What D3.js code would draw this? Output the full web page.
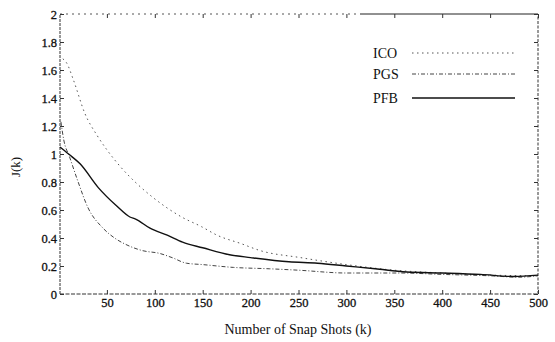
<!DOCTYPE html>
<html lang="en">
<head>
<meta charset="UTF-8">
<title>J(k)</title>
<script src="https://cdn.jsdelivr.net/npm/d3@7/dist/d3.min.js"></script>
<style>
  body { margin: 0; background: #fff; }
  text { font-family: "Liberation Serif", "DejaVu Serif", serif; fill: #111; }
</style>
</head>
<body>
<svg width="555" height="342"></svg>
<script>
// data
var icoK = [4, 8, 15, 27, 40, 50, 64, 81, 98, 128, 149, 165, 190, 210, 252, 300, 350, 400, 450, 500];
var icoJ = [1.68, 1.65, 1.53, 1.29, 1.13, 1.03, 0.91, 0.79, 0.69, 0.55, 0.48, 0.42, 0.36, 0.31, 0.26, 0.21, 0.17, 0.15, 0.135, 0.13];

var pgsK = [2, 5, 11, 20, 30, 46, 58, 71, 87, 105, 118, 133, 150, 182, 220, 250, 300, 356, 400, 450, 480, 500];
var pgsJ = [1.23, 1.1, 0.98, 0.8, 0.62, 0.47, 0.40, 0.35, 0.31, 0.29, 0.26, 0.22, 0.21, 0.19, 0.18, 0.17, 0.15, 0.15, 0.14, 0.13, 0.12, 0.13];

var pfbK = [1, 10, 22, 41, 60, 74, 80, 95, 113, 129, 150, 178, 200, 240, 270, 300, 330, 363, 400, 440, 475, 500];
var pfbJ = [1.05, 1.0, 0.93, 0.76, 0.63, 0.55, 0.535, 0.47, 0.42, 0.37, 0.33, 0.28, 0.26, 0.23, 0.22, 0.20, 0.18, 0.157, 0.15, 0.14, 0.125, 0.135];

var xTicks = [50, 100, 150, 200, 250, 300, 350, 400, 450, 500];
var yTicks = [0, 0.2, 0.4, 0.6, 0.8, 1, 1.2, 1.4, 1.6, 1.8, 2];

var svg = d3.select('svg');

var x = d3.scaleLinear().domain([0, 500]).range([59, 538]);
var y = d3.scaleLinear().domain([0, 2]).range([294, 14]);

// frame (scanned look: dotted)
var g = svg.append('g');
g.append('line').attr('x1', 60).attr('x2', 538).attr('y1', y(0)).attr('y2', y(0))
  .attr('stroke', '#333').attr('stroke-dasharray', '4,1.5');
g.append('line').attr('x1', 60).attr('x2', 60).attr('y1', y(0)).attr('y2', y(2))
  .attr('stroke', '#333').attr('stroke-dasharray', '3,1');
g.append('line').attr('x1', 60).attr('x2', 360).attr('y1', y(2)).attr('y2', y(2))
  .attr('stroke', '#555').attr('stroke-dasharray', '2,4');
g.append('line').attr('x1', 360).attr('x2', 538).attr('y1', y(2)).attr('y2', y(2))
  .attr('stroke', '#222');
g.append('line').attr('x1', 538).attr('x2', 538).attr('y1', y(0)).attr('y2', y(2))
  .attr('stroke', '#333').attr('stroke-dasharray', '3,1.5');

// axes with inward ticks, mirrored
var axB = d3.axisBottom(x).tickValues(xTicks).tickSize(-4).tickPadding(4);
var axT = d3.axisTop(x).tickValues(xTicks).tickSize(-4).tickFormat('');
var axL = d3.axisLeft(y).tickValues(yTicks).tickSize(-4).tickPadding(3).tickFormat(d3.format('~g'));
var axR = d3.axisRight(y).tickValues(yTicks).tickSize(-4).tickFormat('');

function style(sel) {
  sel.select('.domain').remove();
  sel.selectAll('line').attr('stroke', '#333');
  sel.selectAll('text').attr('font-size', 12.5).attr('font-family', '"Liberation Serif", serif')
    .attr('fill', '#111').attr('stroke', '#111').attr('stroke-width', 0.3);
}
svg.append('g').attr('transform', 'translate(0,' + y(0) + ')').call(axB).call(style);
svg.append('g').attr('transform', 'translate(0,' + y(2) + ')').call(axT).call(style);
svg.append('g').attr('transform', 'translate(60,0)').call(axL).call(style);
svg.append('g').attr('transform', 'translate(538,0)').call(axR).call(style);

// curves
var line = d3.line().x(function(d) { return x(d[0]); }).y(function(d) { return y(d[1]); })
  .curve(d3.curveMonotoneX);

var series = [
  { name: 'ICO', k: icoK, j: icoJ, stroke: '#555', width: 1, dash: '1.5,3.5' },
  { name: 'PGS', k: pgsK, j: pgsJ, stroke: '#444', width: 1, dash: '4,2,1,2' },
  { name: 'PFB', k: pfbK, j: pfbJ, stroke: '#111', width: 1.4, dash: null }
];

series.forEach(function(s) {
  var pts = d3.zip(s.k, s.j);
  svg.append('path').datum(pts).attr('d', line)
    .attr('fill', 'none').attr('stroke', s.stroke)
    .attr('stroke-width', s.width)
    .attr('stroke-dasharray', s.dash);
});

// legend
var leg = svg.append('g');
series.forEach(function(s, i) {
  var ly = [53, 74, 98][i];
  leg.append('text').attr('x', 373).attr('y', ly + 5).attr('font-size', 14).text(s.name);
  leg.append('line').attr('x1', 412).attr('x2', 515).attr('y1', ly).attr('y2', ly)
    .attr('stroke', s.stroke).attr('stroke-width', s.width).attr('stroke-dasharray', s.dash);
});

// axis titles
svg.append('text').attr('x', 298).attr('y', 334).attr('text-anchor', 'middle')
  .attr('font-size', 14).text('Number of Snap Shots (k)');
svg.append('text').attr('transform', 'translate(20,167) rotate(-90)')
  .attr('text-anchor', 'middle').attr('font-size', 13).text('J(k)');
</script>
</body>
</html>
